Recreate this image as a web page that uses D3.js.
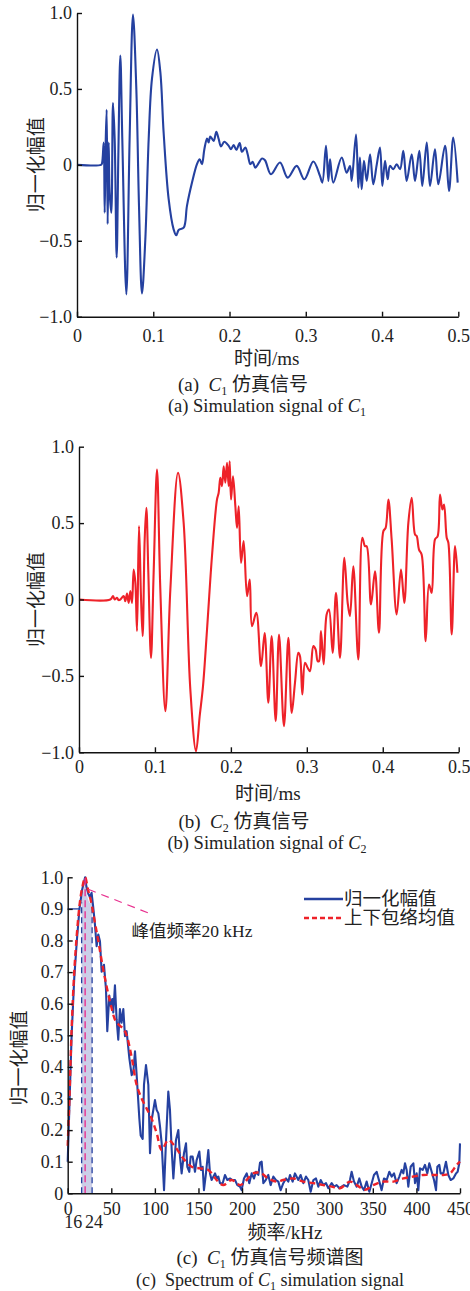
<!DOCTYPE html>
<html>
<head>
<meta charset="utf-8">
<script src="https://cdn.jsdelivr.net/npm/d3@7"></script>
<style>
  body { margin: 0; background: #fff; }
  svg { display: block; background: #fff; }
  text { font-family: "Liberation Serif", "Times New Roman", "Noto Sans CJK SC", serif; fill: #222; }
</style>
</head>
<body>
<svg id="chart"></svg>
<script>
// ---- data ----
// (a) C1 simulation signal: [time ms, normalized amplitude]
const c1Signal = [
  [0,0],[0.0315,0],[0.0328,0.01],[0.035,0.147],[0.0363,-0.315],[0.0376,0.147],[0.0389,0.363],
  [0.0402,-0.39],[0.0415,0.147],[0.0428,-0.18],[0.045,-0.315],[0.0472,0.407],[0.0494,0.17],
  [0.052,-0.61],[0.0542,0.06],[0.0568,0.72],[0.0594,0.17],[0.0647,-0.853],[0.069,0.17],
  [0.0734,0.99],[0.0778,0.5],[0.0813,-0.27],[0.0852,-0.847],[0.0896,-0.49],[0.094,0.17],
  [0.0983,0.566],[0.1049,0.76],[0.1093,0.61],[0.1136,0.213],[0.1202,-0.226],[0.1267,-0.425],
  [0.1302,-0.464],[0.1333,-0.429],[0.1399,-0.414],[0.1442,-0.27],[0.1508,-0.117],[0.1573,0.005],
  [0.1608,0.037],[0.1639,0.005],[0.167,0.103],[0.1705,0.174],[0.1726,0.147],[0.1748,0.187],
  [0.1792,0.158],[0.1827,0.218],[0.1858,0.17],[0.1888,0.121],[0.1932,0.152],[0.1989,0.125],
  [0.2019,0.103],[0.2054,0.13],[0.2089,0.099],[0.2133,0.143],[0.2163,0.086],[0.2207,0.114],
  [0.2238,0.07],[0.2273,0.005],[0.2303,0.02],[0.2338,-0.018],[0.2382,0.011],[0.2426,0.042],
  [0.2465,0.03],[0.2544,-0.062],[0.2662,0.015],[0.2763,-0.084],[0.2881,-0.007],[0.2981,-0.095],
  [0.3099,0.022],[0.3186,-0.073],[0.3217,-0.117],[0.3265,0.125],[0.3296,-0.106],[0.3318,0.037],
  [0.3361,-0.117],[0.3471,0.048],[0.3536,-0.051],[0.358,-0.007],[0.3602,-0.106],[0.3659,0.2],
  [0.3689,-0.15],[0.371,0.048],[0.3733,-0.161],[0.3763,0.026],[0.3799,-0.106],[0.3843,0.07],
  [0.3885,-0.128],[0.393,0.0],[0.3973,0.114],[0.4004,-0.139],[0.4039,0.026],[0.4074,-0.095],
  [0.4104,-0.007],[0.4148,-0.029],[0.4192,0.004],[0.4236,-0.029],[0.4279,0.092],[0.4323,-0.106],
  [0.4389,0.07],[0.4432,-0.106],[0.4489,0.092],[0.4528,-0.139],[0.4586,0.147],[0.4629,-0.139],
  [0.4694,0.103],[0.4738,-0.128],[0.4826,0.125],[0.4878,-0.172],[0.4934,0.18],[0.4992,-0.117]
];

// (b) C2 simulation signal
const c2Signal = [
  [0,0],[0.0412,0],[0.0448,0.022],[0.047,0],[0.05,0.011],[0.0522,-0.004],[0.0544,0],
  [0.0588,0.022],[0.061,-0.011],[0.0632,0.039],[0.0654,-0.022],[0.0676,0.055],[0.0698,-0.022],
  [0.072,0.196],[0.0742,0.109],[0.0764,-0.207],[0.079,0.48],[0.0816,0.022],[0.0838,-0.24],
  [0.0865,0.393],[0.0887,0.6],[0.0913,0.175],[0.0948,-0.382],[0.0983,0.175],[0.1027,0.85],
  [0.1071,0.065],[0.1137,-0.731],[0.1203,0.065],[0.1304,0.829],[0.1378,0.502],[0.1466,-0.589],
  [0.1541,-0.993],[0.1589,-0.764],[0.1633,-0.567],[0.1686,-0.196],[0.1751,0.283],[0.1817,0.654],
  [0.1839,0.698],[0.1861,0.796],[0.1883,0.742],[0.1905,0.872],[0.1927,0.764],[0.1949,0.894],
  [0.1971,0.742],[0.1984,0.905],[0.2002,0.654],[0.2028,0.807],[0.2059,0.61],[0.2081,0.469],
  [0.2103,0.61],[0.2134,0.24],[0.2168,0.382],[0.2213,0.022],[0.2248,0.131],[0.2278,-0.175],
  [0.2335,-0.087],[0.2397,-0.436],[0.2445,-0.22],[0.2493,-0.676],[0.2537,-0.24],[0.259,-0.796],
  [0.2634,-0.229],[0.2699,-0.829],[0.2757,-0.251],[0.2801,-0.742],[0.2844,-0.545],[0.2888,-0.349],
  [0.291,-0.371],[0.2941,-0.622],[0.2976,-0.414],[0.3011,-0.447],[0.3042,-0.469],[0.3086,-0.305],
  [0.3116,-0.327],[0.3143,-0.404],[0.316,-0.404],[0.3186,-0.207],[0.3222,-0.425],[0.3261,-0.098],
  [0.3292,-0.065],[0.334,-0.349],[0.3384,0.044],[0.3437,-0.382],[0.3494,0.273],[0.3538,-0.022],
  [0.3568,-0.109],[0.3612,0.218],[0.3678,-0.393],[0.3731,0.404],[0.3766,0.349],[0.3788,0.349],
  [0.3845,-0.033],[0.3898,0.185],[0.395,-0.218],[0.4008,0.447],[0.4038,0.469],[0.4074,0.654],
  [0.4117,0.393],[0.4183,-0.098],[0.424,0.196],[0.4284,-0.022],[0.4337,0.502],[0.4381,0.665],
  [0.4425,0.425],[0.4447,0.415],[0.4477,0.327],[0.4512,0.295],[0.4565,-0.273],[0.4609,0.098],
  [0.4644,0.044],[0.4688,0.393],[0.4723,0.415],[0.4754,0.687],[0.4785,0.589],[0.4807,0.622],
  [0.4842,0.404],[0.4864,0.371],[0.4908,-0.229],[0.4952,0.349],[0.4983,0.175]
];

// (c) spectrum of C1: [frequency kHz, normalized amplitude]
const spectrum = [
  [0,0.1],[2,0.28],[4.5,0.5],[7.5,0.68],[10.5,0.8],[13.5,0.9],[16.5,0.96],[20,1.0],[21.5,0.97],
  [23.6,0.948],[25.5,0.938],[27.4,0.951],[29.3,0.905],[31.2,0.852],[33.2,0.782],[35.1,0.819],
  [37,0.798],[38.9,0.701],[41.6,0.723],[43.9,0.647],[45.4,0.513],[47.7,0.626],[49.2,0.594],
  [51.1,0.615],[52.3,0.572],[54.2,0.658],[56.1,0.551],[58,0.486],[59.9,0.583],[61.8,0.54],
  [63.8,0.583],[65.7,0.497],[67.6,0.513],[70.7,0.428],[73.4,0.374],[75.3,0.385],[77.2,0.449],
  [79.1,0.374],[82.2,0.236],[83.7,0.183],[86,0.172],[87.5,0.343],[89.8,0.406],[92.5,0.343],
  [94.4,0.127],[96.3,0.232],[100.1,0.295],[102,0.264],[104,0.253],[105.9,0.211],[107.8,0.158],
  [110.5,0.01],[112.8,0.169],[115.4,0.322],[117.3,0.264],[119.3,0.137],[121.2,0.047],[124.2,0.169],
  [126.9,0.2],[128.8,0.116],[130.7,0.063],[133.4,0.127],[135.7,0.158],[137.2,0.084],[139.5,0.068],
  [141,0.116],[143.3,0.116],[146,0.068],[147.9,0.105],[151,0.132],[152.9,0.074],[154.8,0.084],
  [156.3,0.01],[158.6,0.063],[161.3,0.137],[163.2,0.063],[165.1,0.042],[169,0.063],[170.9,0.047],
  [172.8,0.053],[174.7,0.032],[177.8,0.032],[180.4,0.058],[183.1,0.042],[186.2,0.047],[188.8,0.042],
  [191.9,0.042],[194.6,0.026],[197.6,0.021],[199.5,0.01],[202.2,0.047],[205.3,0.063],[208.3,0.032],
  [211,0.063],[213.7,0.047],[216,0.068],[218.7,0.058],[220.6,0.097],[222.5,0.1],[224.4,0.032],
  [227.1,0.042],[230.1,0.058],[232.8,0.026],[235.9,0.053],[238.9,0.042],[241.6,0.037],[244.3,0.01],
  [247.3,0.032],[250.4,0.047],[253.1,0.037],[255,0.058],[258,0.037],[260.7,0.063],[264.5,0.042],
  [267.2,0.058],[270.3,0.032],[273.3,0.053],[276,0.042],[278.7,0.005],[281.8,0.042],[284.8,0.047],
  [287.5,0.021],[290.2,0.042],[293.2,0.026],[296.3,0.032],[299,0.016],[302.8,0.032],[305.5,0.021],
  [308.5,0.026],[311.6,0.016],[314.3,0.021],[316.9,0.026],[320.8,0.021],[323.8,0.042],[325.7,0.068],
  [328.4,0.037],[331.5,0.021],[334.5,0.047],[337.2,0.021],[339.9,0.01],[342.9,0.037],[346,0.005],
  [348.7,0.032],[351.3,0.058],[354.4,0.068],[357.5,0.037],[360.1,0.01],[362.8,0.047],[365.9,0.042],
  [368.9,0.068],[371.6,0.053],[374.3,0.063],[377.3,0.032],[380.4,0.053],[383.1,0.074],[385,0.063],
  [386.9,0.095],[388.8,0.074],[390.7,0.021],[393.4,0.084],[396.5,0.095],[398.4,0.032],[400.3,0.063],
  [402.2,0.01],[404.1,0.079],[407.2,0.074],[409.8,0.09],[412.5,0.063],[414.8,0.095],[417.5,0.068],
  [420.2,0.042],[422.5,0.01],[424,0.084],[426.3,0.09],[427.8,0.063],[430.9,0.063],[433.9,0.1],
  [436.6,0.058],[439.3,0.042],[442.3,0.047],[445.4,0.063],[447.3,0.068],[449.2,0.095],[450,0.158]
];

// (c) mean of upper and lower envelopes
const envelope = [
  [0,0.15],[2,0.3],[4.5,0.52],[7.5,0.7],[10.5,0.82],[13.5,0.91],[16.5,0.965],[20,1.0],[23,0.965],
  [27,0.92],[31,0.86],[35,0.8],[40,0.72],[45,0.65],[50,0.59],[55,0.545],[60,0.53],[64,0.52],
  [67.6,0.5],[73.4,0.43],[79.1,0.343],[84.8,0.3],[90.6,0.268],[96.3,0.236],[102.1,0.19],
  [107.8,0.137],[115.4,0.169],[123.1,0.148],[132.6,0.11],[142.2,0.084],[151.8,0.079],[161.3,0.074],
  [170.9,0.042],[178.5,0.026],[188.1,0.042],[197.6,0.026],[203.4,0.037],[212.9,0.063],[220.6,0.065],
  [230.1,0.047],[239.7,0.037],[247.3,0.042],[258.8,0.047],[270.3,0.037],[281.8,0.032],[293.3,0.026],
  [302.8,0.021],[312.3,0.016],[323.8,0.037],[331.5,0.026],[341,0.011],[350.5,0.026],[362,0.037],
  [373.5,0.037],[385,0.047],[396.5,0.053],[407.9,0.058],[419.4,0.058],[430.8,0.058],[438.5,0.063],
  [446.2,0.09],[450,0.1]
];

const timeTicks = [0, 0.1, 0.2, 0.3, 0.4, 0.5];
const ampTicks = [-1, -0.5, 0, 0.5, 1];
const freqTicks = [0, 50, 100, 150, 200, 250, 300, 350, 400, 450];
const specTicks = [0, 0.1, 0.2, 0.3, 0.4, 0.5, 0.6, 0.7, 0.8, 0.9, 1.0];
const bandEdges = [16, 28];      // where the band is drawn in the picture
const bandLabels = [16, 24];     // what the labels under it read
const peakFreq = 20;
const levelMark = 0.9;
const levelMarkEnd = 14;
const calloutLine = [[23.6, 0.962], [98.2, 0.881]];
const legendNames = ["归一化幅值", "上下包络均值"];

const BLUE = "#2541a0";
const RED = "#ee2229";
const PINK = "#e8318f";
const NB = "\u00a0";

const W = 470, H = 1291;
const svg = d3.select("#chart").attr("width", W).attr("height", H);

function styleAxis(g, fontSize) {
  g.attr("font-family", null).attr("font-size", null);
  g.select(".domain").attr("stroke", "#111").attr("stroke-width", 1.4);
  g.selectAll(".tick line").attr("stroke", "#111").attr("stroke-width", 1.4);
  g.selectAll(".tick text").style("font-size", fontSize + "px").attr("fill", "#222");
}

function caption(x, y, size, parts) {
  const t = svg.append("text").attr("x", x).attr("y", y)
    .attr("text-anchor", "middle").style("font-size", size + "px");
  parts.forEach(p => {
    const s = t.append("tspan").text(p.s);
    if (p.it) s.style("font-style", "italic");
    if (p.sub) s.attr("dy", 4).style("font-size", "12px");
    if (p.back) s.attr("dy", -4);
  });
}

function yTitle(x, y) {
  svg.append("text")
    .attr("transform", `translate(${x},${y}) rotate(-90)`)
    .attr("text-anchor", "middle").attr("dy", "0.35em")
    .style("font-size", "19px").text("归一化幅值");
}

// ---- time-domain panels ----
function timePanel(data, color, box) {
  const x = d3.scaleLinear().domain([0, 0.5]).range([box.left, box.right]);
  const y = d3.scaleLinear().domain([-1, 1]).range([box.bottom, box.top]);

  svg.append("path").datum(data)
    .attr("fill", "none").attr("stroke", color).attr("stroke-width", 2.1)
    .attr("stroke-linejoin", "round")
    .attr("d", d3.line().x(d => x(d[0])).y(d => y(d[1])).curve(d3.curveCatmullRom.alpha(0.5)));

  const fmt = d => d === 0 ? "0" : d3.format(".1f")(d);
  svg.append("g").attr("transform", `translate(0,${box.bottom})`)
    .call(d3.axisBottom(x).tickValues(timeTicks).tickSizeInner(-5).tickSizeOuter(0)
      .tickPadding(box.xPad).tickFormat(fmt))
    .call(g => styleAxis(g, 18));
  svg.append("g").attr("transform", `translate(${box.left},0)`)
    .call(d3.axisLeft(y).tickValues(ampTicks).tickSizeInner(-5).tickSizeOuter(0)
      .tickPadding(5).tickFormat(fmt))
    .call(g => styleAxis(g, 18));

  yTitle(36, (box.top + box.bottom) / 2);
  svg.append("text").attr("x", (box.left + box.right) / 2 - 1).attr("y", box.titleY)
    .attr("text-anchor", "middle").attr("dy", "0.35em").style("font-size", "19px")
    .text("时间/ms");
}

timePanel(c1Signal, BLUE, { left: 77, right: 458.3, top: 13, bottom: 316.7, xPad: 12.5, titleY: 358 });
caption(243, 391, 19, [{ s: "(a)" + NB + NB }, { s: "C", it: true }, { s: "1", sub: true }, { s: " 仿真信号", back: true }]);
caption(267, 412, 18.5, [{ s: "(a) Simulation signal of " }, { s: "C", it: true }, { s: "1", sub: true }]);

timePanel(c2Signal, RED, { left: 79, right: 458.7, top: 446.7, bottom: 752.3, xPad: 7.5, titleY: 793 });
caption(244, 828, 19, [{ s: "(b)" + NB + NB }, { s: "C", it: true }, { s: "2", sub: true }, { s: " 仿真信号", back: true }]);
caption(267, 849, 18.5, [{ s: "(b) Simulation signal of " }, { s: "C", it: true }, { s: "2", sub: true }]);

// ---- spectrum panel ----
const box = { left: 67.7, right: 460, top: 877.3, bottom: 1193.3 };
const fx = d3.scaleLinear().domain([0, 450]).range([box.left, box.right]);
const fy = d3.scaleLinear().domain([0, 1]).range([box.bottom, box.top]);

function valueAt(data, f) {
  const i = d3.bisector(d => d[0]).left(data, f);
  const a = data[i - 1], b = data[i];
  return a[1] + (b[1] - a[1]) * (f - a[0]) / (b[0] - a[0]);
}

// shaded band between the two edge frequencies
const bandPts = [[bandEdges[0], valueAt(spectrum, bandEdges[0])]]
  .concat(spectrum.filter(d => d[0] > bandEdges[0] && d[0] < bandEdges[1]))
  .concat([[bandEdges[1], valueAt(spectrum, bandEdges[1])]]);
svg.append("path").datum(bandPts)
  .attr("fill", "#c5c9e4").attr("opacity", 0.9)
  .attr("d", d3.area().x(d => fx(d[0])).y0(fy(0)).y1(d => fy(d[1] - 0.02)));

bandEdges.forEach(f => {
  svg.append("line")
    .attr("x1", fx(f)).attr("x2", fx(f)).attr("y1", fy(0)).attr("y2", fy(valueAt(spectrum, f) - 0.03))
    .attr("stroke", BLUE).attr("stroke-width", 1.3).attr("stroke-dasharray", "6,4");
});

// 0.9 level marker
svg.append("line")
  .attr("x1", fx(0)).attr("x2", fx(levelMarkEnd)).attr("y1", fy(levelMark)).attr("y2", fy(levelMark))
  .attr("stroke", BLUE).attr("stroke-width", 1.3);

svg.append("path").datum(spectrum)
  .attr("fill", "none").attr("stroke", BLUE).attr("stroke-width", 2.1).attr("stroke-linejoin", "round")
  .attr("d", d3.line().x(d => fx(d[0])).y(d => fy(d[1])));

svg.append("path").datum(envelope)
  .attr("fill", "none").attr("stroke", RED).attr("stroke-width", 2.4).attr("stroke-dasharray", "6,4")
  .attr("d", d3.line().x(d => fx(d[0])).y(d => fy(d[1])).curve(d3.curveCatmullRom.alpha(0.5)));

// peak marker and call-out
svg.append("line")
  .attr("x1", fx(peakFreq)).attr("x2", fx(peakFreq)).attr("y1", fy(0)).attr("y2", fy(1))
  .attr("stroke", PINK).attr("stroke-width", 1.4).attr("stroke-dasharray", "7,4");
svg.append("line")
  .attr("x1", fx(calloutLine[0][0])).attr("y1", fy(calloutLine[0][1]))
  .attr("x2", fx(calloutLine[1][0])).attr("y2", fy(calloutLine[1][1]))
  .attr("stroke", PINK).attr("stroke-width", 1.2).attr("stroke-dasharray", "8,6");
svg.append("text").attr("x", 131.5).attr("y", 930.7).attr("dy", "0.35em")
  .style("font-size", "17.5px").text(`峰值频率${peakFreq} kHz`);

svg.append("g").attr("transform", `translate(0,${box.bottom})`)
  .call(d3.axisBottom(fx).tickValues(freqTicks).tickSizeInner(-5).tickSizeOuter(0).tickPadding(8.5))
  .call(g => styleAxis(g, 18));
svg.append("g").attr("transform", `translate(${box.left},0)`)
  .call(d3.axisLeft(fy).tickValues(specTicks).tickSizeInner(-5).tickSizeOuter(0).tickPadding(4.5)
    .tickFormat(d => d === 0 ? "0" : d3.format(".1f")(d)))
  .call(g => styleAxis(g, 18));

// band edge labels
svg.append("text").attr("x", fx(bandLabels[0]) + 0.5).attr("y", 1222).attr("dy", "0.35em")
  .attr("text-anchor", "end").style("font-size", "18px").text(bandLabels[0]);
svg.append("text").attr("x", fx(bandLabels[1]) - 3.5).attr("y", 1222).attr("dy", "0.35em")
  .attr("text-anchor", "start").style("font-size", "18px").text(bandLabels[1]);

yTitle(19, 1058);
svg.append("text").attr("x", 285).attr("y", 1232).attr("dy", "0.35em")
  .attr("text-anchor", "middle").style("font-size", "19px").text("频率/kHz");

// legend
const legend = svg.append("g");
[[BLUE, null, 899], [RED, "5,3", 918]].forEach((s, i) => {
  legend.append("line").attr("x1", 304).attr("x2", 343).attr("y1", s[2]).attr("y2", s[2])
    .attr("stroke", s[0]).attr("stroke-width", 2.4).attr("stroke-dasharray", s[1]);
  legend.append("text").attr("x", 344).attr("y", s[2]).attr("dy", "0.35em")
    .style("font-size", "18.5px").text(legendNames[i]);
});

caption(270, 1264, 19, [{ s: "(c)" + NB + NB }, { s: "C", it: true }, { s: "1", sub: true }, { s: " 仿真信号频谱图", back: true }]);
caption(270, 1285.5, 18, [{ s: "(c)" + NB + NB + "Spectrum of " }, { s: "C", it: true }, { s: "1", sub: true }, { s: " simulation signal", back: true }]);
</script>
</body>
</html>
